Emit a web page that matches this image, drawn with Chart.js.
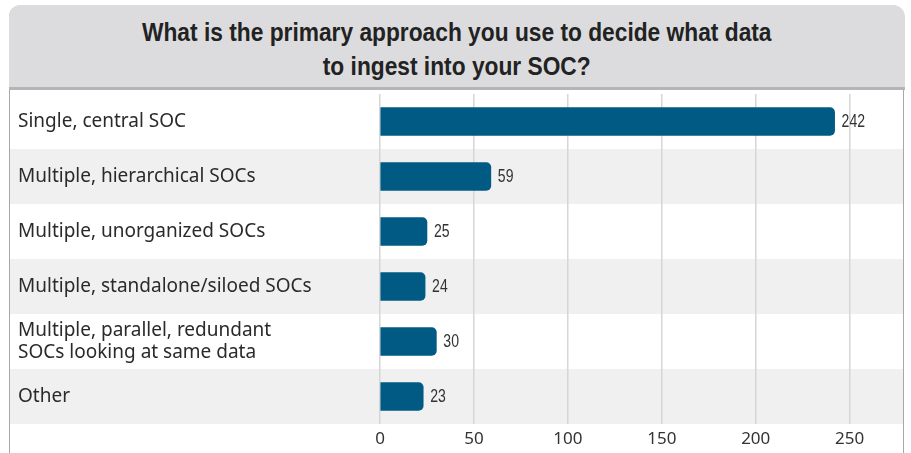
<!DOCTYPE html>
<html>
<head>
<meta charset="utf-8">
<script src="https://cdn.jsdelivr.net/npm/chart.js@4/dist/chart.umd.min.js"></script>
<style>
  html, body { margin: 0; padding: 0; background: #fff; }
  body { width: 911px; height: 453px; position: relative; overflow: hidden; }
  .panel {
    position: absolute; left: 9px; top: 5px; width: 893px; height: 460px;
    border-left: 1.5px solid #a8a8a8; border-right: 1.5px solid #a8a8a8;
    border-top-left-radius: 12px; border-top-right-radius: 12px;
  }
  .header {
    position: absolute; left: 9px; top: 5px; width: 896px; height: 85px;
    background: #dcdcde; border-bottom: 3px solid #b4b4b6;
    border-top-left-radius: 12px; border-top-right-radius: 12px;
    padding-top: 10px; box-sizing: border-box; text-align: center;
  }
  .header span {
    display: inline-block; transform: scaleX(0.875); transform-origin: center;
    font-family: "Liberation Sans", sans-serif; white-space: nowrap;
    font-weight: bold; font-size: 26px; line-height: 34px; color: #222;
  }
  #wrap { position: absolute; left: 0; top: 0; width: 911px; height: 453px; }
</style>
</head>
<body>
<div class="panel"></div>
<div class="header"><span>What is the primary approach you use to decide what data<br>to ingest into your SOC?</span></div>
<div id="wrap"><canvas id="barChart"></canvas></div>
<script>
// --- Survey answers and counts ---
const categories = [
    'Single, central SOC',
    'Multiple, hierarchical SOCs',
    'Multiple, unorganized SOCs',
    'Multiple, standalone/siloed SOCs',
    ['Multiple, parallel, redundant', 'SOCs looking at same data'],
    'Other'
];
const counts = [242, 59, 25, 24, 30, 23];
const xTicks = [0, 50, 100, 150, 200, 250];

// alternating row bands, drawn across the full panel width
const rowBands = {
    id: 'rowBands',
    beforeDraw(chart) {
        const c = chart.ctx;
        const y = chart.scales.y;
        const area = chart.chartArea;
        c.save();
        categories.forEach((_, i) => {
            const top = i === 0 ? area.top : (y.getPixelForValue(i - 1) + y.getPixelForValue(i)) / 2;
            const bottom = i === categories.length - 1 ? area.bottom : (y.getPixelForValue(i) + y.getPixelForValue(i + 1)) / 2;
            c.fillStyle = i % 2 === 1 ? '#f0f0f0' : '#ffffff';
            c.fillRect(10, top, 893, bottom - top);
        });
        c.restore();
    }
};

// value at the end of every bar, in a condensed face
const valueLabels = {
    id: 'valueLabels',
    afterDatasetsDraw(chart) {
        const c = chart.ctx;
        const meta = chart.getDatasetMeta(0);
        const squeeze = 0.78;
        c.save();
        c.font = '18px "Liberation Sans", sans-serif';
        c.fillStyle = '#333';
        c.textBaseline = 'middle';
        c.textAlign = 'left';
        meta.data.forEach((bar, i) => {
            c.save();
            c.translate(bar.x + 7, bar.y + 1);
            c.scale(squeeze, 1);
            c.fillText(counts[i], 0, 0);
            c.restore();
        });
        c.restore();
    }
};

const ctx = document.getElementById('barChart').getContext('2d');
new Chart(ctx, {
    type: 'bar',
    data: {
        labels: categories,
        datasets: [{
            data: counts,
            backgroundColor: '#005a84',
            borderRadius: 5,
            borderSkipped: 'start',
            barThickness: 28
        }]
    },
    options: {
        indexAxis: 'y',
        responsive: true,
        maintainAspectRatio: false,
        animation: false,
        layout: { padding: { top: 94, left: 18, right: 5, bottom: 0 } },
        plugins: {
            legend: { display: false },
            tooltip: { enabled: false }
        },
        scales: {
            x: {
                min: 0,
                max: 280,
                afterBuildTicks: scale => { scale.ticks = xTicks.map(v => ({ value: v })); },
                afterFit: scale => { scale.height = 29; },
                grid: { color: '#d6d6d6', lineWidth: 1.5, drawTicks: false },
                border: { display: false },
                ticks: {
                    padding: 5,
                    color: '#333',
                    font: { family: '"Noto Sans", sans-serif', size: 17 }
                }
            },
            y: {
                afterFit: scale => { scale.width = 362; },
                grid: { display: false },
                border: { display: false },
                ticks: {
                    crossAlign: 'far',
                    color: '#2a2a2a',
                    font: { family: '"Noto Sans", sans-serif', size: 19, lineHeight: 1.2 }
                }
            }
        }
    },
    plugins: [rowBands, valueLabels]
});
</script>
</body>
</html>
